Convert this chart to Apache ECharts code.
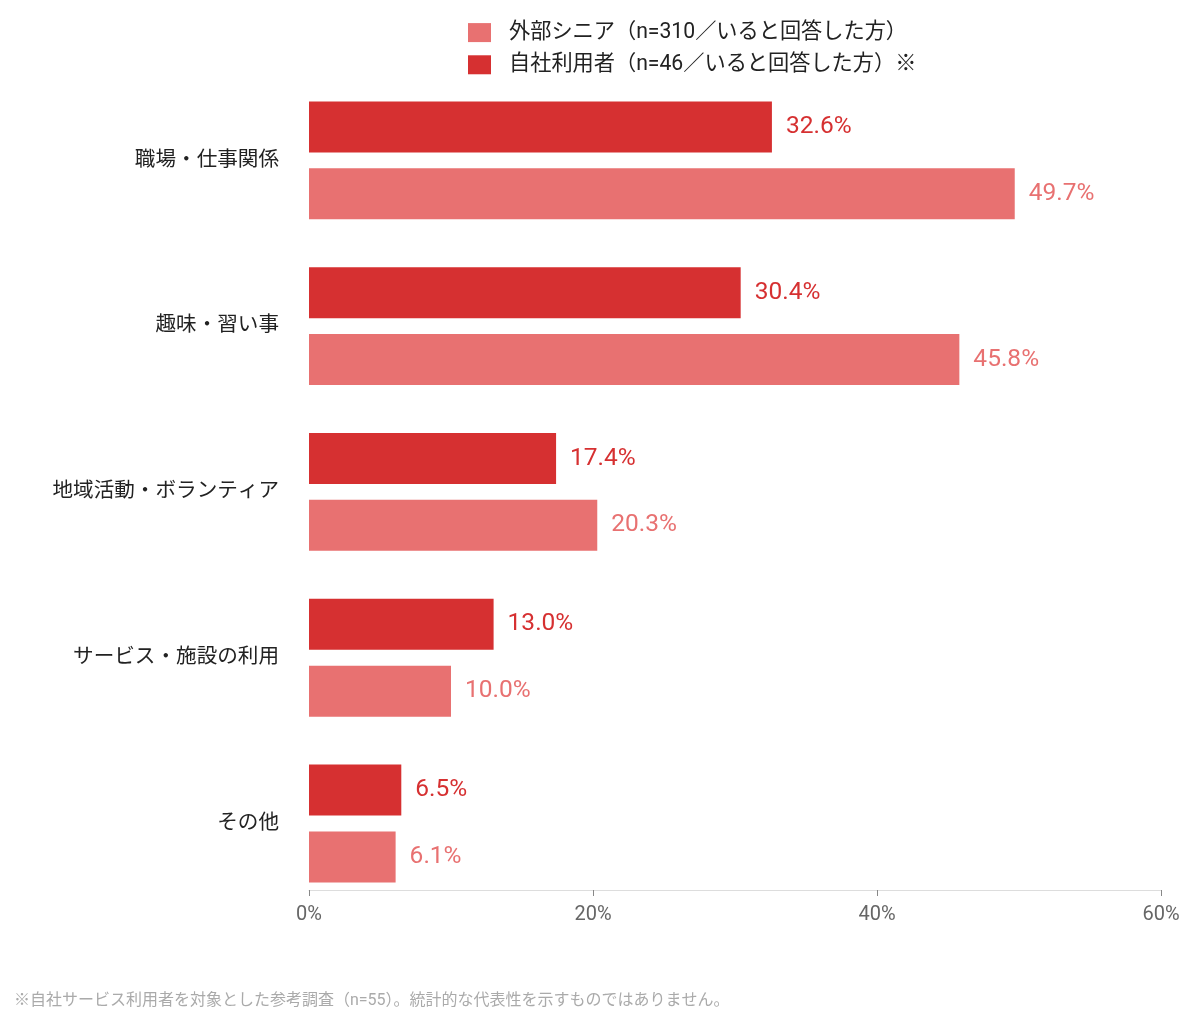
<!DOCTYPE html>
<html>
<head>
<meta charset="utf-8">
<script src="https://cdn.jsdelivr.net/npm/echarts@6/dist/echarts.min.js"></script>
<style>
html,body{margin:0;padding:0;background:#fff;}
#main{width:1195px;height:1023px;}
</style>
</head>
<body>
<div id="main"></div>
<script>
var categories = ['職場・仕事関係', '趣味・習い事', '地域活動・ボランティア', 'サービス・施設の利用', 'その他'];
var seriesNames = ['外部シニア（n=310／いると回答した方）', '自社利用者（n=46／いると回答した方）※'];
var externalSenior = [49.7, 45.8, 20.3, 10.0, 6.1];
var ownUsers = [32.6, 30.4, 17.4, 13.0, 6.5];
var note = '※自社サービス利用者を対象とした参考調査（n=55）。統計的な代表性を示すものではありません。';

var FONT = "Roboto, 'Noto Sans CJK JP', sans-serif";
var DARK = '#d63031';
var LIGHT = '#e87171';

var chart = echarts.init(document.getElementById('main'));

function labelOpt(color) {
    return {
        show: true,
        position: 'right',
        distance: 14,
        color: color,
        fontSize: 24.5,
        fontFamily: FONT,
        formatter: function (p) { return p.value.toFixed(1) + '%'; }
    };
}

var option = {
    backgroundColor: '#fff',
    animation: false,
    textStyle: { fontFamily: FONT },
    legend: {
        orient: 'vertical',
        left: 468,
        top: 22,
        padding: 0,
        icon: 'rect',
        itemWidth: 23,
        itemHeight: 19,
        itemGap: 11,
        data: [seriesNames[0], seriesNames[1]],
        textStyle: { fontSize: 21.2, color: '#222', fontFamily: FONT, padding: [2, 0, 0, 13] }
    },
    grid: {
        left: 309,
        right: 34,
        top: 77.5,
        bottom: 116.6
    },
    xAxis: {
        type: 'value',
        min: 0,
        max: 60,
        interval: 20,
        offset: -16.4,
        axisLine: { show: true, lineStyle: { color: '#ddd', width: 1 } },
        axisTick: { show: true, length: 6, lineStyle: { color: '#888' } },
        splitLine: { show: false },
        axisLabel: { formatter: '{value}%', color: '#666', fontSize: 20, margin: 15, fontFamily: FONT }
    },
    yAxis: {
        type: 'category',
        inverse: true,
        data: categories,
        axisLine: { show: false },
        axisTick: { show: false },
        axisLabel: { color: '#222', fontSize: 20.6, margin: 30, fontFamily: FONT }
    },
    series: [
        {
            name: seriesNames[1],
            type: 'bar',
            data: ownUsers,
            barWidth: 51,
            barGap: '31%',
            itemStyle: { color: DARK },
            label: labelOpt(DARK)
        },
        {
            name: seriesNames[0],
            type: 'bar',
            data: externalSenior,
            barWidth: 51,
            barGap: '31%',
            itemStyle: { color: LIGHT },
            label: labelOpt(LIGHT)
        }
    ],
    graphic: [{
        type: 'text',
        left: 14,
        top: 993,
        style: { text: note, fill: '#aaa', fontSize: 16, fontFamily: FONT }
    }]
};

chart.setOption(option);
</script>
</body>
</html>
